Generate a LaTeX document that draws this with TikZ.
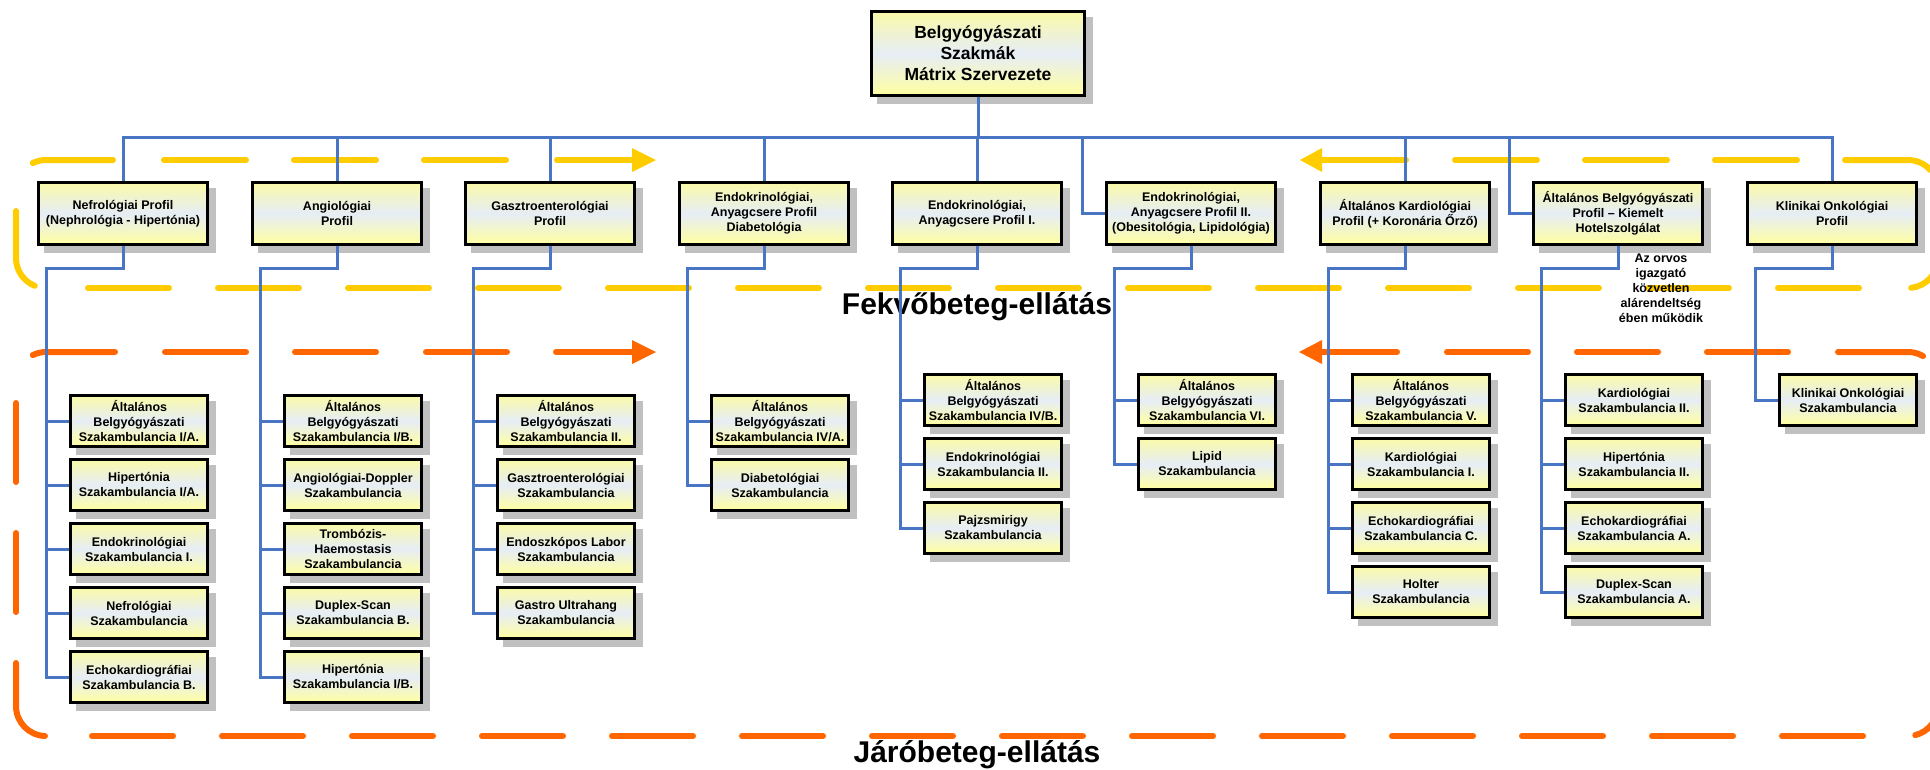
\documentclass[tikz,border=0pt]{standalone}
\usepackage{fontspec}
\setmainfont{Liberation Sans}
\usetikzlibrary{shadows}
\definecolor{conn}{RGB}{72,118,196}
\definecolor{yel}{RGB}{255,204,0}
\definecolor{ora}{RGB}{255,102,0}
\definecolor{btop}{RGB}{250,250,168}
\definecolor{bmid}{RGB}{230,237,246}
\definecolor{bbot}{RGB}{255,255,160}
\definecolor{shad}{RGB}{192,192,192}
\tikzset{
  boxbase/.style={draw=black, line width=3pt, inner sep=0pt, align=center,
    top color=btop, bottom color=bbot, middle color=bmid,
    font=\bfseries\fontsize{12.5}{15}\selectfont,
    drop shadow={shadow xshift=7pt, shadow yshift=-7pt, fill=shad, draw=shad, line width=3pt, opacity=1}},
  topbox/.style={boxbase, minimum width=213pt, minimum height=84pt, font=\bfseries\fontsize{17.5}{21}\selectfont},
  profbox/.style={boxbase, minimum width=169pt, minimum height=62pt},
  childbox/.style={boxbase, minimum width=137pt, minimum height=51pt},
  wire/.style={draw=conn, line width=3pt},
  yeld/.style={draw=yel, line width=6pt, line cap=round},
  orad/.style={draw=ora, line width=6pt, line cap=round},
  biglabel/.style={font=\bfseries\fontsize{30}{36}\selectfont, anchor=base, inner sep=0pt},
  note/.style={font=\bfseries\fontsize{12.5}{15}\selectfont, align=center, inner sep=0pt}
}
\begin{document}
\begin{tikzpicture}[x=1pt,y=-1pt]
\useasboundingbox (0,0) rectangle (1930,769);
\fill[white] (0,0) rectangle (1930,769);

% ---------- yellow dashed frame (Fekvobeteg) ----------
\draw[yeld] (113,160) -- (46,160) arc[start angle=270,end angle=244,radius=30];
\foreach \a in {164,294,424} \draw[yeld] (\a,160) -- ++(82,0);
\draw[yeld] (557,160) -- (634,160);
\fill[yel] (632,148) -- (656,160) -- (632,172) -- cycle;
\draw[yeld] (16,211) -- (16,258) arc[start angle=180,end angle=112,radius=30];
\foreach \k in {0,...,13} \draw[yeld] ({88+130*\k},288) -- ++(81,0);
\fill[yel] (1322,148) -- (1300,160) -- (1322,172) -- cycle;
\draw[yeld] (1320,160) -- (1406,160);
\foreach \a in {1455,1585,1715} \draw[yeld] (\a,160) -- ++(82,0);
\draw[yeld] (1845,160) -- (1908,160) arc[start angle=270,end angle=318,radius=30];
\draw[yeld] (1908,258) ++(84:30) arc[start angle=84,end angle=0,radius=30] -- ++(0,-20);

% ---------- orange dashed frame (Jarobeteg) ----------
\draw[orad] (115,352) -- (46,352) arc[start angle=270,end angle=244,radius=30];
\foreach \a in {165,295,426} \draw[orad] (\a,352) -- ++(81,0);
\draw[orad] (556,352) -- (634,352);
\fill[ora] (632,340) -- (656,352) -- (632,364) -- cycle;
\draw[orad] (16,403) -- (16,482);
\draw[orad] (16,533) -- (16,612);
\draw[orad] (16,663) -- (16,706) arc[start angle=180,end angle=92,radius=30];
\foreach \k in {0,...,13} \draw[orad] ({92+130*\k},736) -- ++(81,0);
\fill[ora] (1322,340) -- (1299,352) -- (1322,364) -- cycle;
\draw[orad] (1320,352) -- (1397,352);
\foreach \a in {1447,1577,1707} \draw[orad] (\a,352) -- ++(81,0);
\draw[orad] (1838,352) -- (1908,352) arc[start angle=270,end angle=300,radius=30];
\draw[orad] (1908,706) ++(76:30) arc[start angle=76,end angle=0,radius=30] -- ++(0,-30);

% ---------- labels ----------
\node[biglabel] (fekvo) at (977,314) {Fekvőbeteg-ellátás};
\node[biglabel] (jaro) at (977,762) {Járóbeteg-ellátás};
\node[note] (annot) at (1661,288) {Az orvos\\igazgató\\közvetlen\\alárendeltség\\ében működik};

% ---------- nodes ----------
\node[topbox] (top) at (978,53.5) {Belgyógyászati\\Szakmák\\Mátrix Szervezete};

\node[profbox] (p1) at (123,213.5) {Nefrológiai Profil\\(Nephrológia - Hipertónia)};
\node[profbox] (p2) at (337,213.5) {Angiológiai\\Profil};
\node[profbox] (p3) at (550,213.5) {Gasztroenterológiai\\Profil};
\node[profbox] (p4) at (764,213.5) {Endokrinológiai,\\Anyagcsere Profil\\Diabetológia};
\node[profbox] (p5) at (977,213.5) {Endokrinológiai,\\Anyagcsere Profil I.};
\node[profbox] (p6) at (1191,213.5) {Endokrinológiai,\\Anyagcsere Profil II.\\(Obesitológia, Lipidológia)};
\node[profbox] (p7) at (1405,213.5) {Általános Kardiológiai\\Profil (+ Koronária Őrző)};
\node[profbox] (p8) at (1618,213.5) {Általános Belgyógyászati\\Profil – Kiemelt\\Hotelszolgálat};
\node[profbox] (p9) at (1832,213.5) {Klinikai Onkológiai\\Profil};

% column 1
\node[childbox] (c1a) at (139,421) {Általános\\Belgyógyászati\\Szakambulancia I/A.};
\node[childbox] (c1b) at (139,485) {Hipertónia\\Szakambulancia I/A.};
\node[childbox] (c1c) at (139,549) {Endokrinológiai\\Szakambulancia I.};
\node[childbox] (c1d) at (139,613) {Nefrológiai\\Szakambulancia};
\node[childbox] (c1e) at (139,677) {Echokardiográfiai\\Szakambulancia B.};
% column 2
\node[childbox] (c2a) at (353,421) {Általános\\Belgyógyászati\\Szakambulancia I/B.};
\node[childbox] (c2b) at (353,485) {Angiológiai-Doppler\\Szakambulancia};
\node[childbox] (c2c) at (353,549) {Trombózis-\\Haemostasis\\Szakambulancia};
\node[childbox] (c2d) at (353,613) {Duplex-Scan\\Szakambulancia B.};
\node[childbox] (c2e) at (353,677) {Hipertónia\\Szakambulancia I/B.};
% column 3
\node[childbox] (c3a) at (566,421) {Általános\\Belgyógyászati\\Szakambulancia II.};
\node[childbox] (c3b) at (566,485) {Gasztroenterológiai\\Szakambulancia};
\node[childbox] (c3c) at (566,549) {Endoszkópos Labor\\Szakambulancia};
\node[childbox] (c3d) at (566,613) {Gastro Ultrahang\\Szakambulancia};
% column 4
\node[childbox] (c4a) at (780,421) {Általános\\Belgyógyászati\\Szakambulancia IV/A.};
\node[childbox] (c4b) at (780,485) {Diabetológiai\\Szakambulancia};
% column 5
\node[childbox] (c5a) at (993,400) {Általános\\Belgyógyászati\\Szakambulancia IV/B.};
\node[childbox] (c5b) at (993,464) {Endokrinológiai\\Szakambulancia II.};
\node[childbox] (c5c) at (993,528) {Pajzsmirigy\\Szakambulancia};
% column 6
\node[childbox] (c6a) at (1207,400) {Általános\\Belgyógyászati\\Szakambulancia VI.};
\node[childbox] (c6b) at (1207,464) {Lipid\\Szakambulancia};
% column 7
\node[childbox] (c7a) at (1421,400) {Általános\\Belgyógyászati\\Szakambulancia V.};
\node[childbox] (c7b) at (1421,464) {Kardiológiai\\Szakambulancia I.};
\node[childbox] (c7c) at (1421,528) {Echokardiográfiai\\Szakambulancia C.};
\node[childbox] (c7d) at (1421,592) {Holter\\Szakambulancia};
% column 8
\node[childbox] (c8a) at (1634,400) {Kardiológiai\\Szakambulancia II.};
\node[childbox] (c8b) at (1634,464) {Hipertónia\\Szakambulancia II.};
\node[childbox] (c8c) at (1634,528) {Echokardiográfiai\\Szakambulancia A.};
\node[childbox] (c8d) at (1634,592) {Duplex-Scan\\Szakambulancia A.};
% column 9
\node[childbox] (c9a) at (1848,400) {Klinikai Onkológiai\\Szakambulancia};

% ---------- connectors ----------
\begin{scope}[on background layer/.style={}]
\coordinate (bus) at (978,137);
\draw[wire] (top.south) -- (top.south |- bus);
\draw[wire] (p1.north) |- (p9.north |- bus) -- (p9.north);
\foreach \p in {p2,p3,p4,p5,p7}
  \draw[wire] (\p.north) -- (\p.north |- bus);
\coordinate (p6j) at ([xshift=-22.5pt]p6.west);
\coordinate (p8j) at ([xshift=-22.5pt]p8.west);
\draw[wire] (p6.west) -- (p6j) -- (p6j |- bus);
\draw[wire] (p8.west) -- (p8j) -- (p8j |- bus);

\foreach \k/\kids in {1/{a,b,c,d,e},2/{a,b,c,d,e},3/{a,b,c,d},4/{a,b},5/{a,b,c},6/{a,b},7/{a,b,c,d},8/{a,b,c,d},9/{a}}{
  \coordinate (b\k) at ([xshift=-22.5pt]c\k a.west);
  \foreach \j in \kids
    \draw[wire] (p\k.south) -- ++(0,22.5) -| (c\k\j.west -| b\k) -- (c\k\j.west);
}
\end{scope}
\end{tikzpicture}
\end{document}
